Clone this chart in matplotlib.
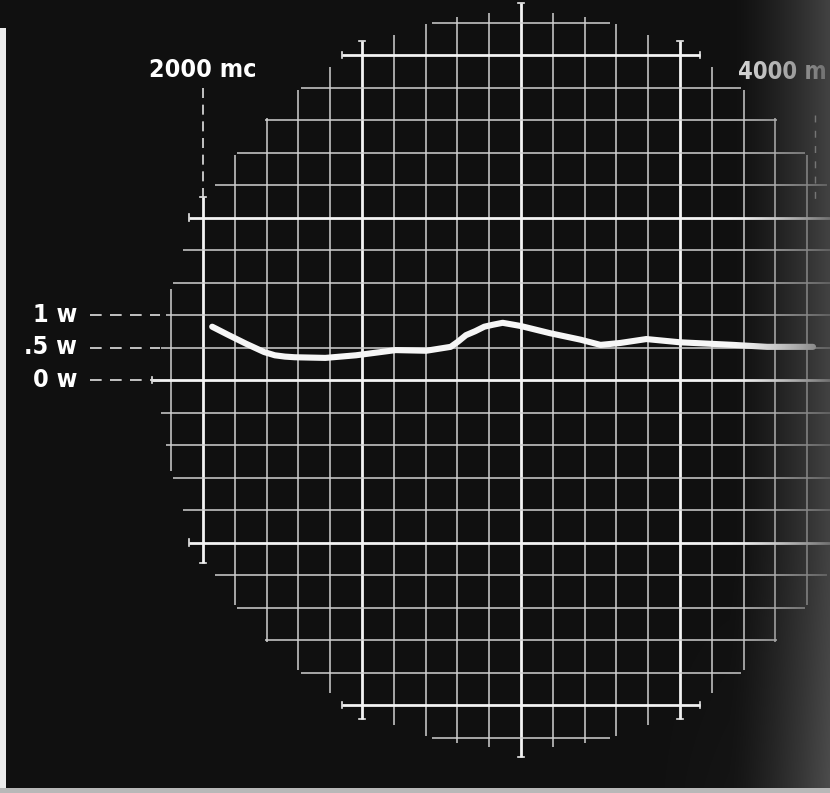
import numpy as np
import matplotlib.pyplot as plt

# power trace (frequency in mc, power in w)
trace_mc = [2030, 2080, 2140, 2200, 2235, 2268, 2300, 2400, 2500, 2630, 2730, 2810,
            2834, 2860, 2890, 2920, 2948, 2980, 3040, 3135, 3235, 3300, 3365, 3450,
            3560, 3735, 3845, 3995]
trace_w = [0.82, 0.70, 0.56, 0.43, 0.38, 0.36, 0.35, 0.34, 0.38, 0.46, 0.45, 0.51,
           0.59, 0.69, 0.75, 0.82, 0.85, 0.88, 0.83, 0.72, 0.62, 0.54, 0.57, 0.63,
           0.58, 0.54, 0.51, 0.51]

level_labels = ['1 w', '.5 w', '0 w']
level_values = [1.0, 0.5, 0.0]
freq_labels = ['2000 mc', '4000 m']
freq_values = [2000, 4000]

# graticule
MC_PER_DIV = 104.0
W_PER_DIV = 0.5
COL_ZERO = 2000.0
CENTER_COL = 10
RADIUS = 11.35
cols = range(-1, 20)
rows = range(-11, 12)

FONT = ['Liberation Sans Narrow', 'DejaVu Sans']
BG = '#101010'


def px_to_mc(px):
    return COL_ZERO + (px - 203) / 31.8 * MC_PER_DIV


def px_to_w(py):
    return (380 - py) / 65.0


fig = plt.figure(figsize=(8.3, 7.93), dpi=100)
fig.patch.set_facecolor(BG)
ax = fig.add_axes([0, 0, 1, 1])
ax.set_facecolor(BG)
x_lo, x_hi = px_to_mc(0), px_to_mc(830)
y_lo, y_hi = px_to_w(793), px_to_w(0)
ax.set_xlim(x_lo, x_hi)
ax.set_ylim(y_lo, y_hi)
ax.axis('off')

cx = COL_ZERO + CENTER_COL * MC_PER_DIV
tick = 0.1

# vertical lines
for k in cols:
    dx = k - CENTER_COL
    if abs(dx) >= RADIUS:
        continue
    half = np.sqrt(RADIUS ** 2 - dx ** 2)
    major = k % 5 == 0
    x = COL_ZERO + k * MC_PER_DIV
    if major:
        half += 0.25
        for s in (-1, 1):
            ax.plot([x - tick * MC_PER_DIV, x + tick * MC_PER_DIV], [s * half * W_PER_DIV] * 2,
                    color='#e8e8e8', lw=1.2, zorder=2)
    ax.plot([x, x], [-half * W_PER_DIV, half * W_PER_DIV],
            color='#f4f4f4' if major else '#d0d0d0', lw=2.0 if major else 1.1,
            solid_capstyle='butt', zorder=2)

# horizontal lines
for j in rows:
    half = np.sqrt(RADIUS ** 2 - j ** 2)
    major = j % 5 == 0
    y = j * W_PER_DIV
    if major:
        half += 0.25
        for s in (-1, 1):
            ax.plot([cx + s * half * MC_PER_DIV] * 2, [y - tick * W_PER_DIV, y + tick * W_PER_DIV],
                    color='#e8e8e8', lw=1.2, zorder=2)
    ax.plot([cx - half * MC_PER_DIV, cx + half * MC_PER_DIV], [y, y],
            color='#f4f4f4' if major else '#d0d0d0', lw=2.0 if major else 1.1,
            solid_capstyle='butt', zorder=2)

# the trace
ax.plot(trace_mc, trace_w, color='#f6f6f6', lw=4.4, solid_capstyle='round',
        solid_joinstyle='round', zorder=4)

# power markers on the left
for lab, v in zip(level_labels, level_values):
    ax.text(px_to_mc(77), v, lab, color='white', fontsize=18, family=FONT,
            fontstretch='condensed', fontweight='bold', ha='right', va='center', zorder=5)
    ax.plot([px_to_mc(90), px_to_mc(160)], [v, v], color='#e0e0e0', lw=1.2,
            dashes=(7, 5), zorder=3)

# frequency markers on top
ax.text(freq_values[0], px_to_w(70), freq_labels[0], color='white', fontsize=18,
        family=FONT, fontstretch='condensed', fontweight='bold', ha='center',
        va='center', zorder=5)
top0 = (np.sqrt(RADIUS ** 2 - CENTER_COL ** 2) + 0.25) * W_PER_DIV
ax.plot([freq_values[0]] * 2, [px_to_w(88), top0], color='#e0e0e0', lw=1.2,
        dashes=(6, 4), zorder=3)
ax.text(px_to_mc(827), px_to_w(72), freq_labels[1], color='#d8d8d8', fontsize=17,
        family=FONT, fontstretch='condensed', fontweight='bold', ha='right',
        va='center', zorder=5)
ax.plot([freq_values[1]] * 2, [px_to_w(115), px_to_w(205)], color='#bbbbbb', lw=1.0,
        dashes=(5, 6), zorder=3)

# lighting falloff towards the right edge
xs = np.linspace(0, 830, 300)
ys = np.linspace(0, 793, 50)
gx, gy = np.meshgrid(xs, ys)
alpha = np.clip((gx - 730) / 100.0, 0, 1) ** 1.4 * 0.8
alpha += np.clip((gx - 640) / 190.0, 0, 1) * np.clip((gy - 560) / 233.0, 0, 1) * 0.15
rgba = np.zeros(gx.shape + (4,))
rgba[..., :3] = 0.31
rgba[..., 3] = np.clip(alpha, 0, 1)
ax.imshow(rgba, extent=[x_lo, x_hi, y_lo, y_hi], origin='upper', aspect='auto',
          interpolation='bilinear', zorder=6)

# photo border
ax.axvspan(x_lo, px_to_mc(6), ymin=0, ymax=(793 - 28) / 793, color='#ececec', zorder=7, lw=0)
ax.axhspan(y_lo, px_to_w(788), color='#b8b8b8', zorder=7, lw=0)

plt.savefig('out.png', dpi=100, facecolor=fig.get_facecolor())
